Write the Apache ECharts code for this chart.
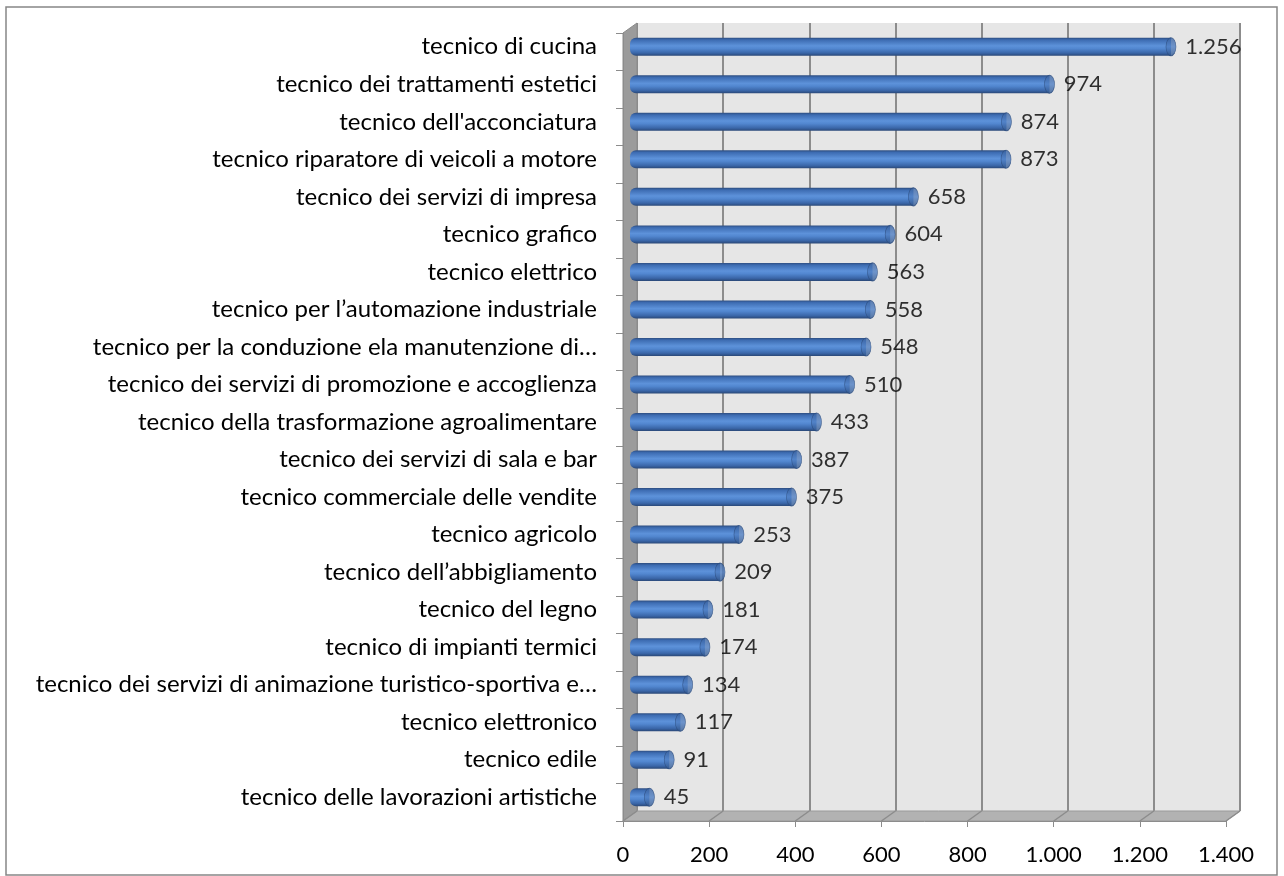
<!DOCTYPE html>
<html>
<head>
<meta charset="utf-8">
<script src="https://cdn.jsdelivr.net/npm/echarts@6/dist/echarts.min.js"></script>
<style>
    html, body { margin: 0; padding: 0; background: #fff; }
    #main { width: 1284px; height: 876px; }
</style>
</head>
<body>
<div id="main"></div>
<script>
// dati del grafico
var categorie = [
    'tecnico di cucina',
    'tecnico dei trattamenti estetici',
    "tecnico dell'acconciatura",
    'tecnico riparatore di veicoli a motore',
    'tecnico dei servizi di impresa',
    'tecnico grafico',
    'tecnico elettrico',
    'tecnico per l\u2019automazione industriale',
    'tecnico per la conduzione ela manutenzione di\u2026',
    'tecnico dei servizi di promozione e accoglienza',
    'tecnico della trasformazione agroalimentare',
    'tecnico dei servizi di sala e bar',
    'tecnico commerciale delle vendite',
    'tecnico agricolo',
    'tecnico dell\u2019abbigliamento',
    'tecnico del legno',
    'tecnico di impianti termici',
    'tecnico dei servizi di animazione turistico-sportiva e\u2026',
    'tecnico elettronico',
    'tecnico edile',
    'tecnico delle lavorazioni artistiche'
];
var valori = [1256, 974, 874, 873, 658, 604, 563, 558, 548, 510, 433, 387, 375, 253, 209, 181, 174, 134, 117, 91, 45];
var tickValori = [0, 200, 400, 600, 800, 1000, 1200, 1400];

// geometria (piano frontale + profondita' 3D)
var fx = 623, fy = 33, fw = 603, fh = 788;
var dx = 14, dy = -10;
var xMax = 1400;

function fmtNum(v) {
    return String(v).replace(/\B(?=(\d{3})+(?!\d))/g, '.');
}

var myChart = echarts.init(document.getElementById('main'));

function gridAt(k) {
    return {
        left: fx + dx * k,
        top: fy + dy * k,
        width: fw,
        height: fh
    };
}

var back = gridAt(1), mid = gridAt(0.5), front = gridAt(0);
back.show = true;
back.backgroundColor = '#e6e6e6';
back.borderWidth = 0;

var fontTxt = 'Lato, "Liberation Sans", sans-serif';

// pareti e pavimento
var graphics = [];
graphics.push({
    type: 'rect', z: 0,
    shape: { x: 6, y: 7, width: 1271, height: 868 },
    style: { fill: 'none', stroke: '#868686', lineWidth: 1.5 }
});
graphics.push({
    type: 'polygon', z: 1,
    shape: { points: [[fx, fy], [fx + dx, fy + dy], [fx + dx, fy + fh + dy], [fx, fy + fh]] },
    style: { fill: '#9b9b9b', stroke: '#8a8a8a', lineWidth: 1 }
});
graphics.push({
    type: 'polygon', z: 1,
    shape: { points: [[fx, fy + fh], [fx + dx, fy + fh + dy], [fx + fw + dx, fy + fh + dy], [fx + fw, fy + fh]] },
    style: { fill: '#b2b2b2', stroke: '#9a9a9a', lineWidth: 1 }
});
tickValori.forEach(function (t) {
    var px = fx + fw * t / xMax;
    graphics.push({
        type: 'line', z: 1,
        shape: { x1: px, y1: fy + fh, x2: px + dx, y2: fy + fh + dy },
        style: { stroke: '#8c8c8c', lineWidth: 1.5 }
    });
});

var option = {
    animation: false,
    graphic: graphics,
    grid: [back, mid, front],
    xAxis: [
        {
            gridIndex: 0, type: 'value', min: 0, max: xMax, interval: 200,
            axisLabel: { show: false }, axisTick: { show: false }, axisLine: { show: false },
            splitLine: { show: true, lineStyle: { color: '#8c8c8c', width: 2 } }
        },
        {
            gridIndex: 1, type: 'value', min: 0, max: xMax, interval: 200, show: false
        },
        {
            gridIndex: 2, type: 'value', min: 0, max: xMax, interval: 200, z: 3,
            axisLine: { show: true, lineStyle: { color: '#8c8c8c', width: 1 } },
            axisTick: { show: true, length: 6, lineStyle: { color: '#8c8c8c' } },
            axisLabel: {
                margin: 23, color: '#000', fontSize: 22, fontFamily: fontTxt,
                formatter: function (v) { return fmtNum(v); }
            },
            splitLine: { show: false }
        }
    ],
    yAxis: [
        { gridIndex: 0, type: 'category', data: categorie, inverse: true, show: false },
        {
            // etichette allineate con le barre (profondita' media)
            gridIndex: 1, type: 'category', data: categorie, inverse: true,
            axisLine: { show: false }, axisTick: { show: false },
            axisLabel: { margin: 33, color: '#000', fontSize: 24, fontFamily: fontTxt }
        },
        {
            gridIndex: 2, type: 'category', data: categorie, inverse: true, z: 3,
            axisLine: { show: true, lineStyle: { color: '#8c8c8c', width: 1 } },
            axisTick: { show: true, length: 7, lineStyle: { color: '#8c8c8c' } },
            axisLabel: { show: false }
        }
    ],
    series: [
        {
            name: 'iscritti',
            type: 'bar',
            xAxisIndex: 1,
            yAxisIndex: 1,
            z: 4,
            barWidth: 18,
            itemStyle: {
                borderRadius: [6, 0, 0, 6],
                color: new echarts.graphic.LinearGradient(0, 0, 0, 1, [
                    { offset: 0, color: '#2d4d80' },
                    { offset: 0.12, color: '#3d6cb2' },
                    { offset: 0.45, color: '#5d92da' },
                    { offset: 0.6, color: '#5287d0' },
                    { offset: 0.85, color: '#3a66a8' },
                    { offset: 1, color: '#2a4877' }
                ])
            },
            data: valori
        },
        {
            name: 'cap',
            type: 'scatter',
            xAxisIndex: 1,
            yAxisIndex: 1,
            z: 5,
            symbol: 'circle',
            symbolSize: [10, 18],
            itemStyle: {
                color: new echarts.graphic.LinearGradient(0, 0, 0, 1, [
                    { offset: 0, color: '#3b63a0' },
                    { offset: 0.5, color: '#4f7fc4' },
                    { offset: 1, color: '#34598f' }
                ]),
                borderColor: '#2d4d80',
                borderWidth: 0.8
            },
            label: {
                show: true,
                position: 'right',
                distance: 9,
                color: '#000',
                fontSize: 22,
                fontFamily: fontTxt,
                formatter: function (p) { return fmtNum(p.value[0]); }
            },
            data: valori.map(function (v, i) { return [v, i]; })
        }
    ]
};

myChart.setOption(option);
</script>
</body>
</html>
